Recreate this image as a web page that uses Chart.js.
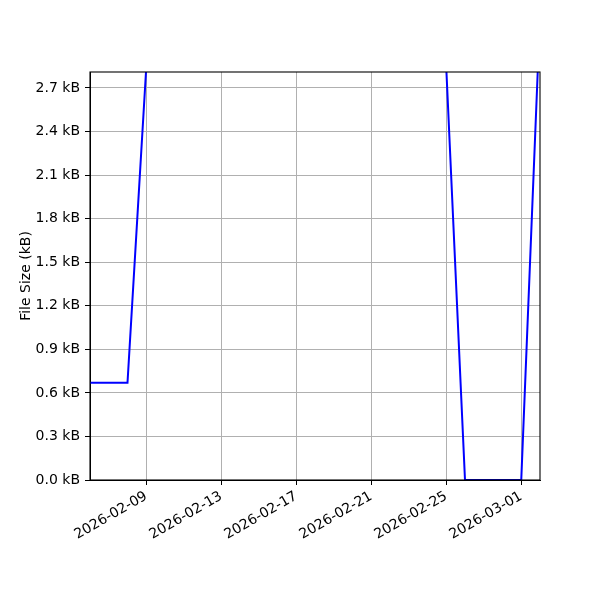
<!DOCTYPE html>
<html>
<head>
<meta charset="utf-8">
<script src="https://cdn.jsdelivr.net/npm/chart.js@4.4.1/dist/chart.umd.min.js"></script>
<style>
  html, body { margin: 0; padding: 0; background: #ffffff; }
  #wrap { width: 600px; height: 600px; }
</style>
</head>
<body>
<div id="wrap"><canvas id="c" width="600" height="600"></canvas></div>
<script>
// ---- data ----
const dates = [
  "2026-02-06", "2026-02-07", "2026-02-08", "2026-02-09", "2026-02-10",
  "2026-02-11", "2026-02-12", "2026-02-13", "2026-02-14", "2026-02-15",
  "2026-02-16", "2026-02-17", "2026-02-18", "2026-02-19", "2026-02-20",
  "2026-02-21", "2026-02-22", "2026-02-23", "2026-02-24", "2026-02-25",
  "2026-02-26", "2026-02-27", "2026-02-28", "2026-03-01", "2026-03-02"
];
// file size in kB (values between 02-09 and 02-25 lie above the visible range)
const sizesKB = [
  0.67, 0.67, 0.67, 2.84, 3.1,
  3.1, 3.2, 3.2, 3.2, 3.3,
  3.3, 3.3, 3.4, 3.4, 3.4,
  3.4, 3.5, 3.5, 3.5, 2.84,
  0.0, 0.0, 0.0, 0.0, 3.2
];
const xTickDates = ["2026-02-09", "2026-02-13", "2026-02-17", "2026-02-21", "2026-02-25", "2026-03-01"];
const yTickValues = [0.0, 0.3, 0.6, 0.9, 1.2, 1.5, 1.8, 2.1, 2.4, 2.7];
const xRange = ["2026-02-06", "2026-03-02"];
const yMaxKB = 2.81;
const yTitle = "File Size (kB)";

// ---- helpers ----
const DAY = 86400000;
const base = Date.parse(xRange[0] + "T00:00:00Z");
function dayNum(s) { return (Date.parse(s + "T00:00:00Z") - base) / DAY; }
function dayLabel(v) {
  const d = new Date(base + Math.round(v) * DAY);
  return d.toISOString().slice(0, 10);
}

const points = dates.map((d, i) => ({ x: dayNum(d), y: sizesKB[i] }));

const FONT = "'DejaVu Sans', sans-serif";

const frame = {
  id: 'frame',
  afterDatasetsDraw(chart) {
    const { ctx, chartArea: a } = chart;
    ctx.save();
    ctx.strokeStyle = '#000000';
    ctx.lineWidth = 1.1;
    ctx.strokeRect(a.left, a.top, a.right - a.left, a.bottom - a.top);
    ctx.restore();
  }
};

new Chart(document.getElementById('c'), {
  type: 'line',
  data: {
    datasets: [{
      data: points,
      borderColor: '#0000ff',
      borderWidth: 2,
      pointRadius: 0,
      tension: 0,
      fill: false,
      clip: 0
    }]
  },
  options: {
    responsive: false,
    animation: false,
    devicePixelRatio: 1,
    layout: { padding: { left: 0, top: 72, right: 60, bottom: 0 } },
    plugins: { legend: { display: false }, tooltip: { enabled: false } },
    scales: {
      x: {
        type: 'linear',
        min: dayNum(xRange[0]),
        max: dayNum(xRange[1]),
        afterBuildTicks(scale) {
          scale.ticks = xTickDates.map(d => ({ value: dayNum(d) }));
        },
        afterFit(scale) { scale.height = 120; },
        grid: {
          color: '#b0b0b0',
          lineWidth: 1,
          drawTicks: true,
          tickLength: 5,
          tickColor: '#000000',
          tickWidth: 1
        },
        border: { display: true, color: '#000000', width: 1 },
        ticks: {
          color: '#000000',
          font: { family: FONT, size: 14 },
          padding: 3,
          maxRotation: 30,
          minRotation: 30,
          autoSkip: false,
          callback: (v) => dayLabel(v)
        }
      },
      y: {
        type: 'linear',
        min: 0,
        max: yMaxKB,
        afterBuildTicks(scale) {
          scale.ticks = yTickValues.map(v => ({ value: v }));
        },
        afterFit(scale) { scale.width = 90; },
        grid: {
          color: '#b0b0b0',
          lineWidth: 1,
          drawTicks: true,
          tickLength: 5,
          tickColor: '#000000',
          tickWidth: 1
        },
        border: { display: true, color: '#000000', width: 1 },
        ticks: {
          color: '#000000',
          font: { family: FONT, size: 14 },
          padding: 5,
          autoSkip: false,
          callback: (v) => v.toFixed(1) + ' kB'
        },
        title: {
          display: true,
          text: yTitle,
          color: '#000000',
          font: { family: FONT, size: 14 },
          padding: { top: 17.6, bottom: 0 }
        }
      }
    }
  },
  plugins: [frame]
});
</script>
</body>
</html>
